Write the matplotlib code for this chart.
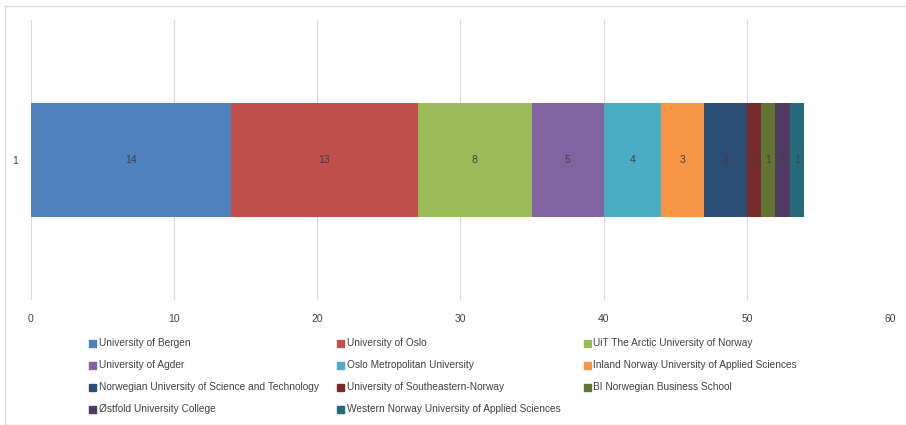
import matplotlib.pyplot as plt
from matplotlib.patches import Rectangle

# Datos
universities = [
    'University of Bergen', 'University of Oslo', 'UiT The Arctic University of Norway',
    'University of Agder', 'Oslo Metropolitan University', 'Inland Norway University of Applied Sciences',
    'Norwegian University of Science and Technology', 'University of Southeastern-Norway',
    'BI Norwegian Business School', 'Østfold University College',
    'Western Norway University of Applied Sciences',
]
counts = [14, 13, 8, 5, 4, 3, 3, 1, 1, 1, 1]
colors = ['#4F81BD', '#C0504D', '#9BBB59', '#8064A2', '#4BACC6', '#F79646',
          '#2C4D75', '#772C2A', '#5F7530', '#4D3B62', '#276A7C']
category = ['1']
xticks = [0, 10, 20, 30, 40, 50, 60]

plt.rcParams['font.family'] = ['Liberation Sans', 'DejaVu Sans']
txt = '#404040'

fig = plt.figure(figsize=(9.06, 4.25), dpi=100)
ax = fig.add_axes([31/906, 1 - 300/425, (890 - 31)/906, 280/425])

left = 0
for name, v, c in zip(universities, counts, colors):
    ax.barh(0, v, left=left, height=0.404, color=c, label=name, zorder=2)
    ax.text(left + v/2, 0, str(v), ha='center', va='center', fontsize=7.5, color=txt, zorder=3)
    left += v

ax.set_xlim(0, 60)
ax.set_ylim(-0.5, 0.5)
ax.set_xticks(xticks)
ax.set_xticklabels([str(t) for t in xticks], fontsize=7.5, color=txt)
ax.set_yticks([0])
ax.set_yticklabels(category, fontsize=7.5, color=txt)
ax.tick_params(length=0)
ax.tick_params(axis='x', pad=10)
ax.tick_params(axis='y', pad=9)
ax.grid(axis='x', color='#d9d9d9', linewidth=0.8, zorder=0)
for s in ax.spines.values():
    s.set_visible(False)

# Leyenda a mano, 3 columnas como en Excel
col_x = [93, 341, 587]
row_y = [343, 365, 387, 409]
for i, (name, c) in enumerate(zip(universities, colors)):
    r, k = divmod(i, 3)
    x = col_x[k] / 906
    y = 1 - row_y[r] / 425
    fig.patches.append(Rectangle((x - 3.5/906, y - 3.5/425), 7/906, 7/425,
                                 transform=fig.transFigure, color=c))
    fig.text(x + 6/906, y, name, fontsize=7.3, color=txt, va='center', ha='left')

# Borde del gráfico
fig.patches.append(Rectangle((5/906, 0), 1.5, (425 - 6)/425, transform=fig.transFigure,
                             fill=False, edgecolor='#d9d9d9', linewidth=1))

fig.savefig('out.png', dpi=100)
